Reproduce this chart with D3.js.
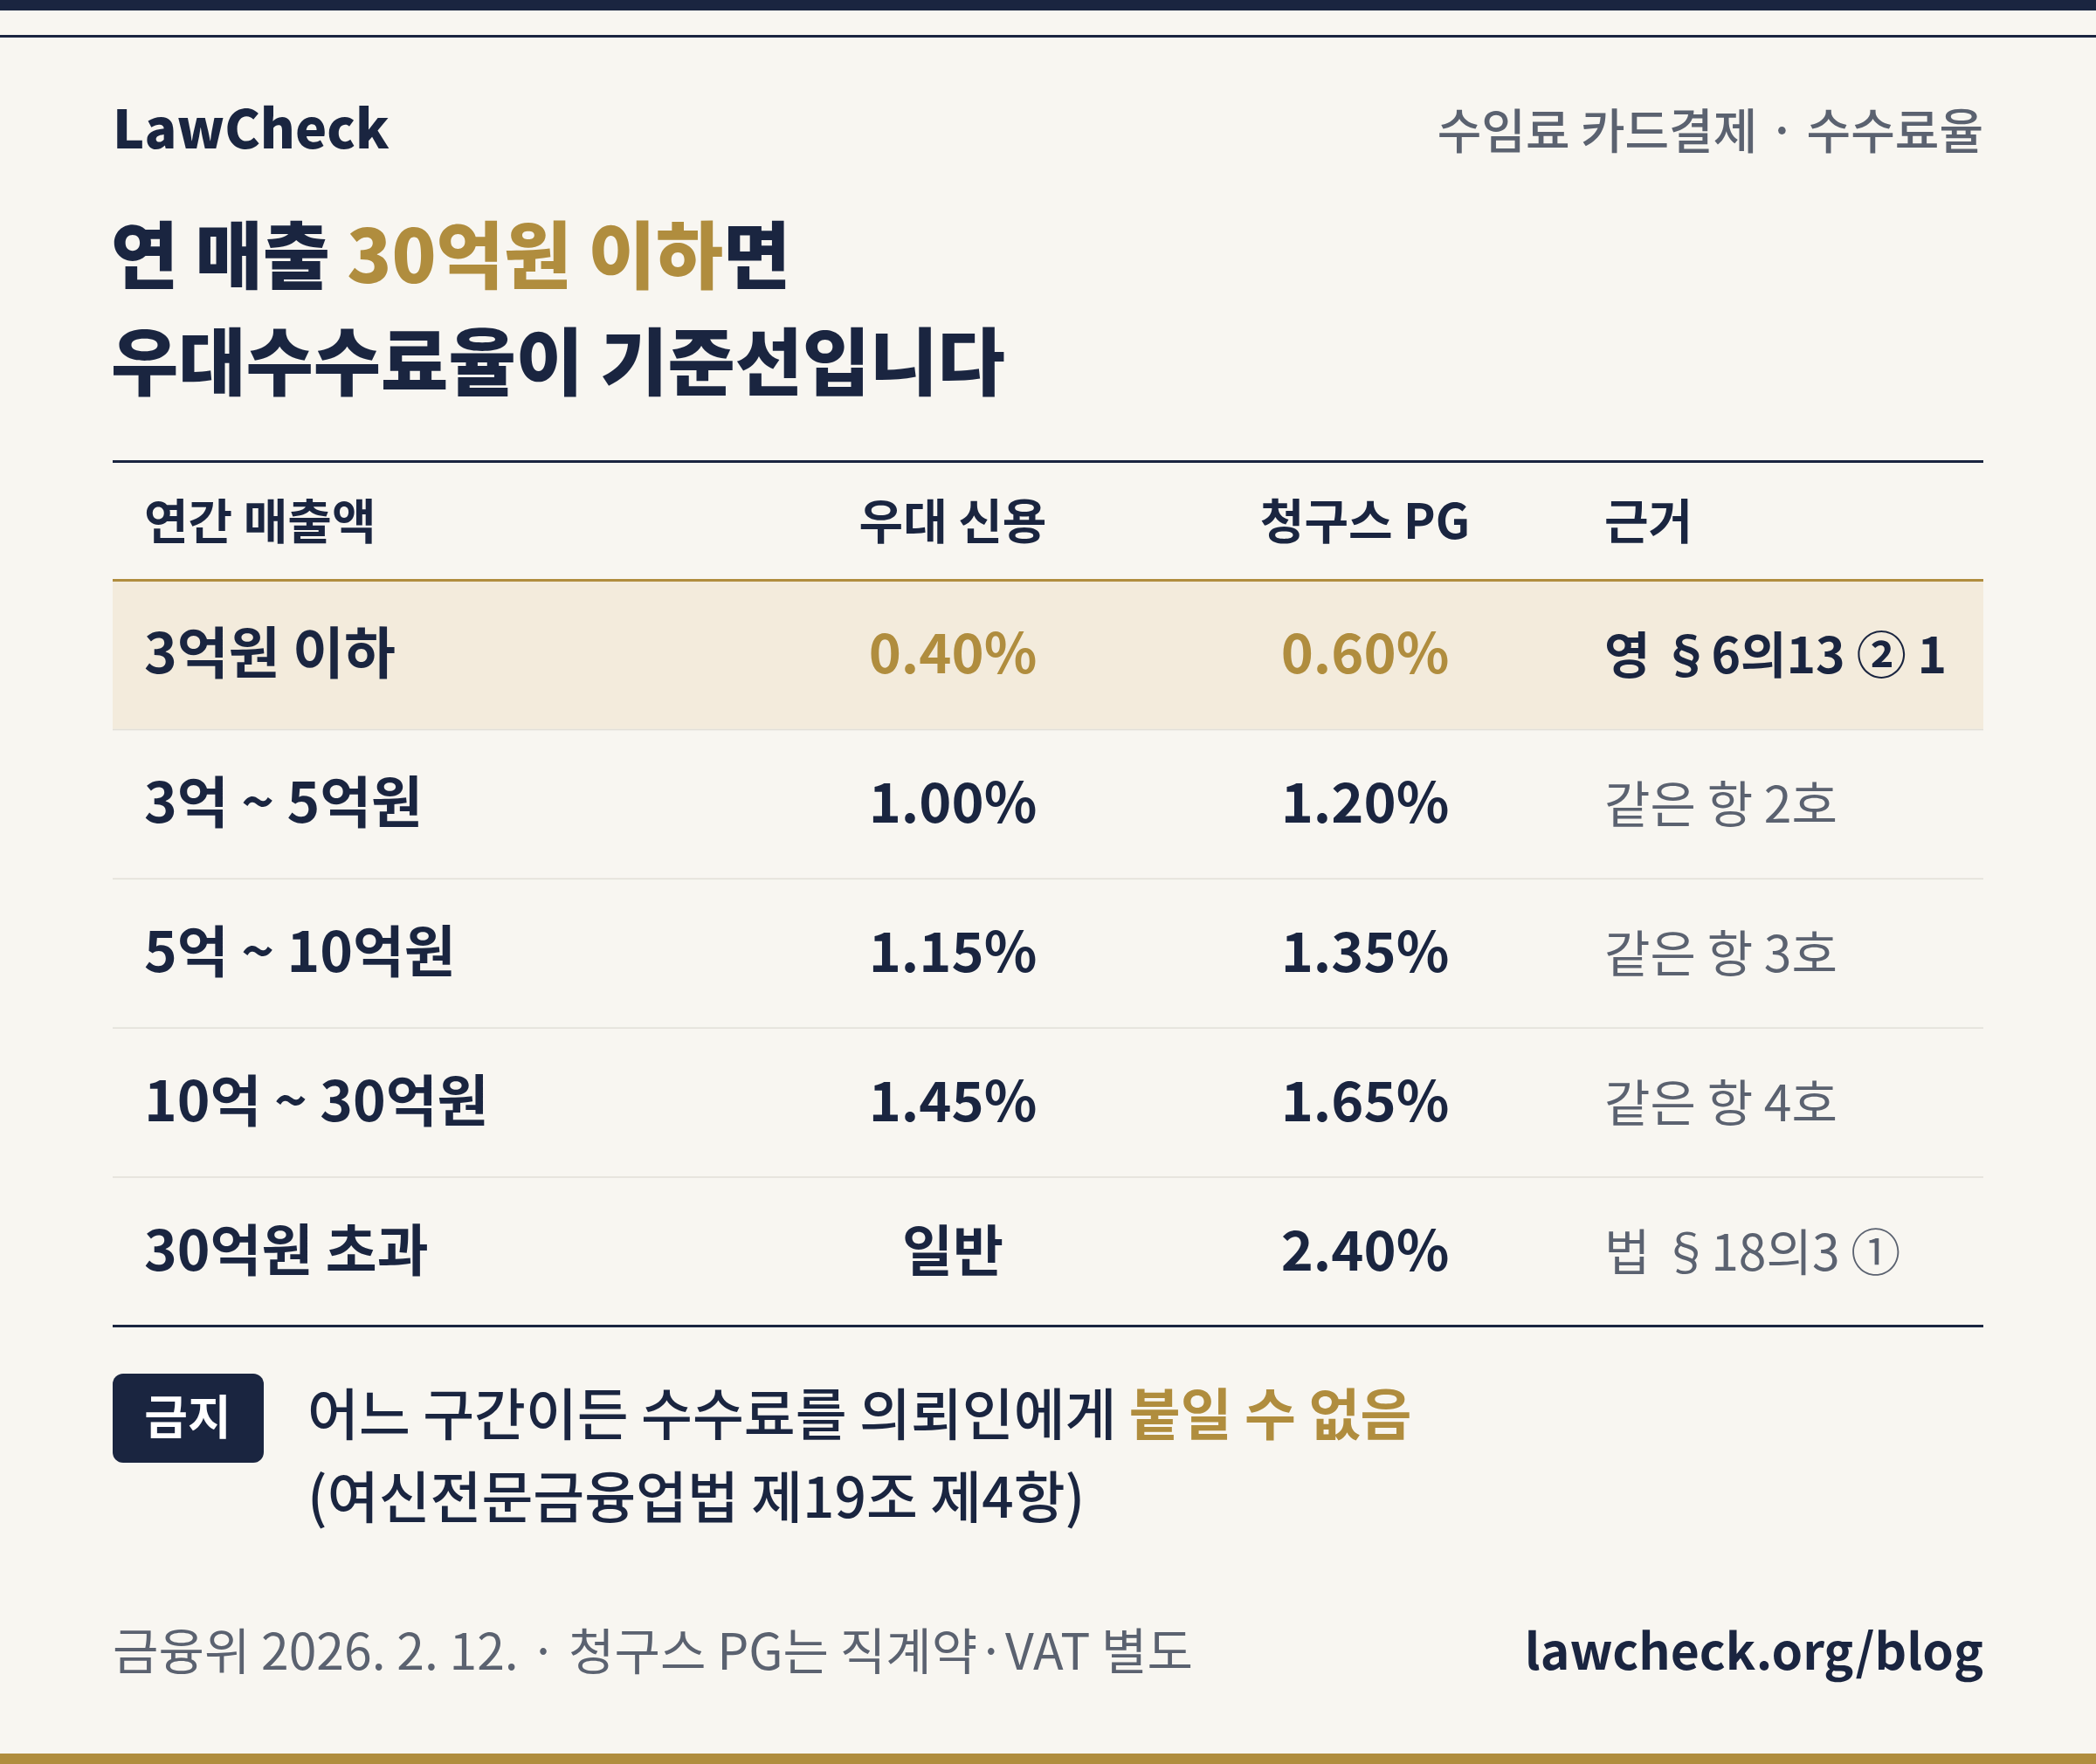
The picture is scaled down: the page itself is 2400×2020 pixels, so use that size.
<!DOCTYPE html>
<html><head><meta charset="utf-8">
<script src="https://cdn.jsdelivr.net/npm/d3@7"></script>
<style>body{margin:0;background:#f8f6f1}svg{display:block}text{font-family:"Noto Sans CJK KR","Noto Sans",sans-serif}</style>
</head><body>
<script>
// table data
var categories = ["3억원 이하", "3억 ~ 5억원", "5억 ~ 10억원", "10억 ~ 30억원", "30억원 초과"];
var prefRates = ["0.40%", "1.00%", "1.15%", "1.45%", "일반"];
var pgRates = ["0.60%", "1.20%", "1.35%", "1.65%", "2.40%"];
var basis = ["영 §6의13 ② 1", "같은 항 2호", "같은 항 3호", "같은 항 4호", "법 §18의3 ①"];
var headers = ["연간 매출액", "우대 신용", "청구스 PG", "근거"];

var W = 2400, H = 2020;
var navy = "#1a2540", gold = "#b08d3e", gray = "#5b6270";
var svg = d3.select("body").append("svg").attr("width", W).attr("height", H);

svg.append("rect").attr("width", W).attr("height", H).attr("fill", "#f8f6f1");
svg.append("rect").attr("width", W).attr("height", 12).attr("fill", navy);
svg.append("rect").attr("y", 40).attr("width", W).attr("height", 3).attr("fill", navy);
svg.append("rect").attr("y", 2008).attr("width", W).attr("height", 12).attr("fill", gold);

svg.append("text").attr("x", 129).attr("y", 170).attr("font-size", 61).attr("font-weight", 800)
  .attr("fill", navy).text("LawCheck");
svg.append("text").attr("x", 2271).attr("y", 170).attr("font-size", 55).attr("font-weight", 500)
  .attr("text-anchor", "end").attr("fill", gray).text("수임료 카드결제 · 수수료율");

var t1 = svg.append("text").attr("x", 127).attr("y", 324).attr("font-size", 84).attr("font-weight", 800).attr("fill", navy);
t1.append("tspan").text("연 매출 ");
t1.append("tspan").attr("fill", gold).text("30억원 이하");
t1.append("tspan").text("면");
svg.append("text").attr("x", 127).attr("y", 446).attr("font-size", 84).attr("font-weight", 800)
  .attr("fill", navy).text("우대수수료율이 기준선입니다");

var x0 = 129, x1 = 2271;
var y = d3.scaleBand().domain(d3.range(categories.length)).range([664, 1518]);
var colX = [165, 1091, 1563, 1837], colAnchor = ["start", "middle", "middle", "start"];

svg.append("rect").attr("x", x0).attr("y", 527).attr("width", x1 - x0).attr("height", 3).attr("fill", navy);
headers.forEach(function(h, i) {
  svg.append("text").attr("x", colX[i]).attr("y", 617).attr("font-size", 55).attr("font-weight", 700)
    .attr("text-anchor", colAnchor[i]).attr("fill", navy).text(h);
});

svg.append("rect").attr("x", x0).attr("y", y(0)).attr("width", x1 - x0).attr("height", y.bandwidth()).attr("fill", "#f3ebdc");
svg.append("rect").attr("x", x0).attr("y", 663).attr("width", x1 - x0).attr("height", 3).attr("fill", gold);

var rows = svg.selectAll("g.row").data(categories).enter().append("g").attr("class", "row")
  .attr("transform", function(d, i) { return "translate(0," + y(i) + ")"; });
rows.filter(function(d, i) { return i > 0; }).append("rect")
  .attr("x", x0).attr("width", x1 - x0).attr("height", 1.5).attr("fill", "#e2dfd8");
var by = y.bandwidth() / 2 + 22;
rows.append("text").attr("x", colX[0]).attr("y", by).attr("font-size", 64).attr("font-weight", 600)
  .attr("fill", navy).text(function(d) { return d; });
rows.append("text").attr("x", colX[1]).attr("y", by).attr("font-size", 63).attr("font-weight", 700)
  .attr("text-anchor", "middle").attr("fill", function(d, i) { return i === 0 ? gold : navy; })
  .text(function(d, i) { return prefRates[i]; });
rows.append("text").attr("x", colX[2]).attr("y", by).attr("font-size", 63).attr("font-weight", 700)
  .attr("text-anchor", "middle").attr("fill", function(d, i) { return i === 0 ? gold : navy; })
  .text(function(d, i) { return pgRates[i]; });
rows.append("text").attr("x", colX[3]).attr("y", by).attr("font-size", 57)
  .attr("font-weight", function(d, i) { return i === 0 ? 600 : 400; })
  .attr("fill", function(d, i) { return i === 0 ? navy : gray; })
  .text(function(d, i) { return basis[i]; });

svg.append("rect").attr("x", x0).attr("y", 1517).attr("width", x1 - x0).attr("height", 3).attr("fill", navy);

svg.append("rect").attr("x", 129).attr("y", 1573).attr("width", 173).attr("height", 102).attr("rx", 12).attr("fill", navy);
svg.append("text").attr("x", 215).attr("y", 1643).attr("font-size", 54).attr("font-weight", 700)
  .attr("text-anchor", "middle").attr("fill", "#fff").text("금지");
var n1 = svg.append("text").attr("x", 352).attr("y", 1643).attr("font-size", 64).attr("font-weight", 500).attr("fill", navy);
n1.append("tspan").text("어느 구간이든 수수료를 의뢰인에게 ");
n1.append("tspan").attr("fill", gold).attr("font-weight", 700).text("붙일 수 없음");
svg.append("text").attr("x", 352).attr("y", 1738).attr("font-size", 64).attr("font-weight", 500)
  .attr("fill", navy).text("(여신전문금융업법 제19조 제4항)");

svg.append("text").attr("x", 129).attr("y", 1912).attr("font-size", 57).attr("fill", gray)
  .text("금융위 2026. 2. 12. · 청구스 PG는 직계약·VAT 별도");
svg.append("text").attr("x", 2271).attr("y", 1912).attr("font-size", 57).attr("font-weight", 700)
  .attr("text-anchor", "end").attr("fill", navy).text("lawcheck.org/blog");
</script>
</body></html>
